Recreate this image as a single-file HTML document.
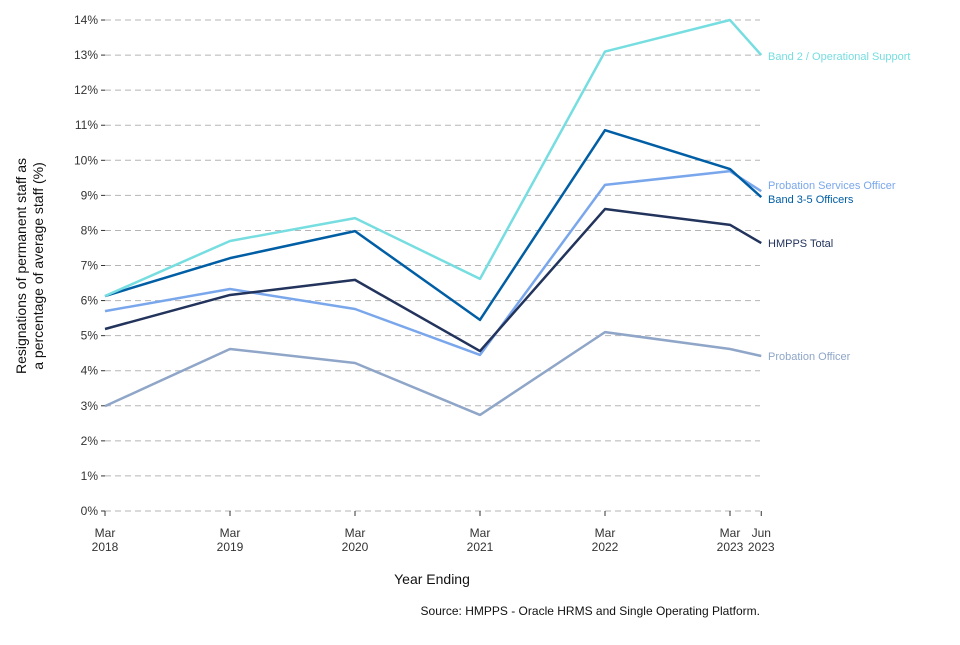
<!DOCTYPE html>
<html><head><meta charset="utf-8"><style>
body{margin:0;background:#fff;font-family:"Liberation Sans",sans-serif}
</style></head><body>
<svg id="chart" width="960" height="640" xmlns="http://www.w3.org/2000/svg" font-family="Liberation Sans, sans-serif">
<g id="grid"></g>
<g id="yaxis"></g>
<g id="xaxis"></g>
<g id="series"></g>
<text transform="translate(32,266) rotate(-90)" text-anchor="middle" font-size="14" fill="#111"><tspan x="0" dy="-6">Resignations of permanent staff as</tspan><tspan x="0" dy="17">a percentage of average staff (%)</tspan></text>
<text x="432" y="584" text-anchor="middle" font-size="14" fill="#111">Year Ending</text>
<text x="760" y="615" text-anchor="end" font-size="12" fill="#111">Source: HMPPS - Oracle HRMS and Single Operating Platform.</text>
</svg>
<script>
const years=[2018,2019,2020,2021,2022,2023,2023.25];
const xLabels=[["Mar","2018"],["Mar","2019"],["Mar","2020"],["Mar","2021"],["Mar","2022"],["Mar","2023"],["Jun","2023"]];
const yTicks=[0,1,2,3,4,5,6,7,8,9,10,11,12,13,14];
const band2=[6.13,7.7,8.35,6.62,13.1,14.0,13.0];
const band35=[6.13,7.21,7.98,5.45,10.86,9.75,8.95];
const pso=[5.7,6.33,5.76,4.45,9.3,9.69,9.12];
const total=[5.19,6.16,6.59,4.56,8.61,8.16,7.64];
const po=[2.99,4.62,4.22,2.74,5.1,4.62,4.42];
const X=v=>105+(v-2018)*125;
const Y=v=>511-v*35.07;
const NS="http://www.w3.org/2000/svg";
function mk(t,a,p){const e=document.createElementNS(NS,t);for(const k in a)e.setAttribute(k,a[k]);p.appendChild(e);return e;}
const grid=document.getElementById('grid'),ya=document.getElementById('yaxis'),xa=document.getElementById('xaxis'),sg=document.getElementById('series');
yTicks.forEach(t=>{
 const l=mk('line',{x1:105,x2:760,y1:Y(t),y2:Y(t),stroke:'#b5b5b5','stroke-dasharray':'6,4','stroke-width':1},grid);
 
 
 const tk=mk('line',{x1:101,x2:105,y1:Y(t),y2:Y(t),stroke:'#333'},ya);
 
 
 const tx=mk('text',{x:98,y:Y(t)+4,'text-anchor':'end','font-size':12,fill:'#333'},ya);
 tx.textContent=t+'%';
 
 
});
years.forEach((v,i)=>{
 const tk=mk('line',{x1:X(v),x2:X(v),y1:511,y2:516,stroke:'#333'},xa);
 
 
 const tx=mk('text',{x:X(v),y:537,'text-anchor':'middle','font-size':12,fill:'#333'},xa);
 tx.innerHTML='<tspan x="'+X(v)+'">'+xLabels[i][0]+'</tspan><tspan x="'+X(v)+'" dy="14">'+xLabels[i][1]+'</tspan>';
 
 
});
const series=[
 [po,'#8fa6c8','Probation Officer','probation-officer',0],
 [pso,'#7aa7ec','Probation Services Officer','probation-services-officer',-6],
 [total,'#22335c','HMPPS Total','hmpps-total',0],
 [band35,'#005ea5','Band 3-5 Officers','band-3-5-officers',2],
 [band2,'#76dde0','Band 2 / Operational Support','band-2-operational-support',1]
];
series.forEach(([d,c,n,id,off])=>{
 const p=mk('polyline',{points:d.map((v,i)=>X(years[i])+','+Y(v)).join(' '),fill:'none',stroke:c,'stroke-width':2.5,'stroke-linejoin':'round'},sg);
 
 
 const t=mk('text',{x:768,y:Y(d[d.length-1])+4+off,'font-size':11,fill:c},sg);
 t.textContent=n;
 
 
});
</script>
</body></html>
